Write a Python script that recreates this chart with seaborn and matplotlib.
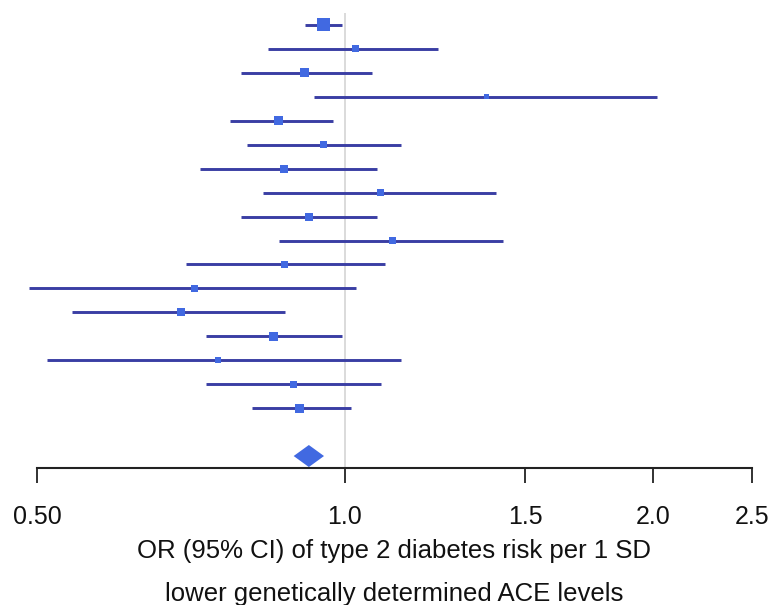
import matplotlib
matplotlib.use("Agg")
import matplotlib.pyplot as plt
import seaborn as sns
import numpy as np
import pandas as pd

# ---- data ----
rows = list(range(1, 18))
or_est = [0.952, 1.023, 0.912, 1.374, 0.862, 0.952, 0.872, 1.084, 0.922, 1.112,
          0.872, 0.712, 0.691, 0.852, 0.751, 0.891, 0.902]
ci_low = [0.914, 0.841, 0.791, 0.933, 0.772, 0.802, 0.721, 0.831, 0.791, 0.862,
          0.700, 0.491, 0.541, 0.731, 0.511, 0.731, 0.811]
ci_high = [0.993, 1.233, 1.063, 2.020, 0.973, 1.134, 1.075, 1.405, 1.075, 1.428,
           1.094, 1.025, 0.874, 0.993, 1.134, 1.084, 1.014]
box_px = [13, 7, 9, 5, 9, 7, 8, 7, 8, 7, 7, 7, 8, 9, 6, 7, 9]  # marker width in pixels

pooled_row = 19
pooled_est = 0.922
pooled_low = 0.891
pooled_high = 0.954

xticks = [0.5, 1.0, 1.5, 2.0, 2.5]
xtick_labels = ["0.50", "1.0", "1.5", "2.0", "2.5"]
xlabel = "OR (95% CI) of type 2 diabetes risk per 1 SD\nlower genetically determined ACE levels"

df = pd.DataFrame({"row": rows, "est": or_est, "lo": ci_low, "hi": ci_high,
                   "s": [(p * 0.72) ** 2 for p in box_px]})

# ---- style ----
sns.set_theme(style="white")
plt.rcParams['font.family'] = ['Liberation Sans', 'DejaVu Sans']

line_col = "#3a3ea4"
box_col = "#4169e1"

fig = plt.figure(figsize=(7.76, 6.05), dpi=100)
W, H = 776, 605
ax = fig.add_axes([37 / W, (H - 468) / H, (752 - 37) / W, (468 - 13) / H])

ax.set_xscale("log")
ax.set_xlim(0.5, 2.5)
ax.set_ylim(19.5, 0.5)

ax.axvline(1.0, color="#d4d4d4", lw=1.2, zorder=0)

ax.hlines(df["row"], df["lo"], df["hi"], color=line_col, lw=2.1, clip_on=False, zorder=2)
sns.scatterplot(x=df["est"], y=df["row"], s=df["s"], marker="s", color=box_col,
                linewidth=0, legend=False, ax=ax, zorder=3, clip_on=False)

# pooled diamond
dh = 0.46
ax.fill([pooled_low, pooled_est, pooled_high, pooled_est],
        [pooled_row, pooled_row - dh, pooled_row, pooled_row + dh],
        color=box_col, lw=0, zorder=3, clip_on=False)

for s in ["top", "left", "right"]:
    ax.spines[s].set_visible(False)
ax.spines["bottom"].set_color("#222222")
ax.spines["bottom"].set_linewidth(1.5)

ax.set_xticks(xticks)
ax.set_xticklabels(xtick_labels)
ax.xaxis.set_minor_locator(matplotlib.ticker.NullLocator())
ax.tick_params(axis="x", bottom=True, direction="out", length=11, width=1.3,
               color="#222222", labelsize=18, pad=16, labelcolor="#111111")
ax.set_yticks([])
ax.set_ylabel("")
ax.set_xlabel(xlabel, fontsize=18.5, linespacing=2.0, labelpad=7, color="#111111")

fig.savefig("out.png", dpi=100, facecolor="white")
